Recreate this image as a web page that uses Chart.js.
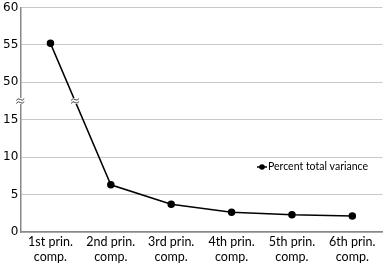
<!DOCTYPE html>
<html>
<head>
<meta charset="utf-8">
<script src="https://cdn.jsdelivr.net/npm/chart.js@4"></script>
<style>
  html, body { margin: 0; padding: 0; background: #fff; }
  #wrap { width: 387px; height: 266px; }
</style>
</head>
<body>
<div id="wrap"><canvas id="screePlot"></canvas></div>
<script>
const categories = [
    ['1st prin.', 'comp.'],
    ['2nd prin.', 'comp.'],
    ['3rd prin.', 'comp.'],
    ['4th prin.', 'comp.'],
    ['5th prin.', 'comp.'],
    ['6th prin.', 'comp.']
];
const percentVariance = [55.2, 6.3, 3.7, 2.65, 2.3, 2.15];
const yTickLabels = ['0', '5', '10', '15', '50', '55', '60'];
const seriesName = 'Percent total variance';

// broken axis: 20..45 is cut out, upper part shifted down by 30
const breakGap = 30;
function toAxis(v) {
    return v >= 47.5 ? v - breakGap : v;
}

const breakMarks = {
    id: 'breakMarks',
    afterDatasetsDraw(chart) {
        const ctx = chart.ctx;
        const y = chart.scales.y.getPixelForValue(17.5);
        const xAxis = chart.scales.y.right;
        // where the line crosses the break
        const meta = chart.getDatasetMeta(0).data;
        const p0 = meta[0], p1 = meta[1];
        const t = (y - p0.y) / (p1.y - p0.y);
        const xLine = p0.x + t * (p1.x - p0.x);
        ctx.save();
        [xAxis, xLine].forEach(function (x) {
            ctx.fillStyle = '#fff';
            ctx.fillRect(x - 4, y - 3, 8, 6);
            ctx.strokeStyle = '#444';
            ctx.lineWidth = 1;
            [-1.5, 1.5].forEach(function (dy) {
                ctx.beginPath();
                ctx.moveTo(x - 4, y + dy + 1);
                ctx.quadraticCurveTo(x - 2, y + dy - 2, x, y + dy);
                ctx.quadraticCurveTo(x + 2, y + dy + 2, x + 4, y + dy - 1);
                ctx.stroke();
            });
        });
        ctx.restore();
    }
};

const insideLegend = {
    id: 'insideLegend',
    afterDraw(chart) {
        const ctx = chart.ctx;
        const x = 257, y = 167;
        ctx.save();
        ctx.strokeStyle = '#000';
        ctx.lineWidth = 1.5;
        ctx.beginPath();
        ctx.moveTo(x, y);
        ctx.lineTo(x + 10, y);
        ctx.stroke();
        ctx.fillStyle = '#000';
        ctx.beginPath();
        ctx.arc(x + 5, y, 2.8, 0, Math.PI * 2);
        ctx.fill();
        ctx.font = '10.5px Lato';
        ctx.textBaseline = 'middle';
        ctx.fillText(seriesName, x + 11, y);
        ctx.restore();
    }
};

const ctx = document.getElementById('screePlot').getContext('2d');
new Chart(ctx, {
    type: 'line',
    data: {
        labels: categories,
        datasets: [{
            label: seriesName,
            data: percentVariance.map(toAxis),
            borderColor: '#000',
            backgroundColor: '#000',
            borderWidth: 1.5,
            pointRadius: 3,
            pointHoverRadius: 3,
            tension: 0,
            fill: false
        }]
    },
    options: {
        responsive: true,
        maintainAspectRatio: false,
        animation: false,
        layout: { padding: { top: 0, right: 3, left: 1, bottom: 0 } },
        plugins: {
            legend: { display: false },
            tooltip: { enabled: false }
        },
        scales: {
            x: {
                offset: true,
                grid: { display: false, drawTicks: false },
                border: { color: '#888', width: 1.5 },
                ticks: {
                    color: '#000',
                    font: { family: 'Lato', size: 12.5, lineHeight: 1.2 },
                    padding: 2,
                    maxRotation: 0,
                    autoSkip: false
                }
            },
            y: {
                min: 0,
                max: 30,
                grid: { color: '#c8c8c8', lineWidth: 1, drawTicks: false },
                border: { color: '#888', width: 1.5 },
                ticks: {
                    stepSize: 5,
                    color: '#000',
                    padding: 2,
                    font: { family: 'DejaVu Sans', size: 12, lineHeight: 0.9 },
                    callback: function (value, i) {
                        return yTickLabels[i];
                    }
                }
            }
        }
    },
    plugins: [breakMarks, insideLegend]
});
</script>
</body>
</html>
